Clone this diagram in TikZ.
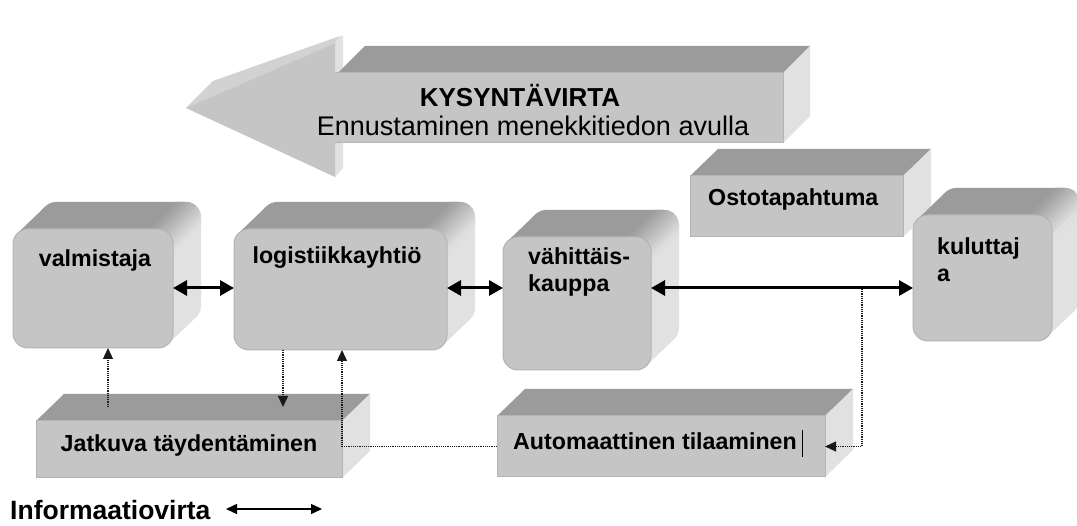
\documentclass[tikz,border=0pt]{standalone}
\usepackage{fontspec}
\setmainfont{Liberation Sans}
\usetikzlibrary{arrows.meta}
\definecolor{topc}{HTML}{9B9B9B}
\definecolor{sidec}{HTML}{E1E1E1}
\definecolor{frontc}{HTML}{C5C5C5}
\definecolor{edgec}{HTML}{B4B4B4}
\definecolor{bevelc}{HTML}{D2D2D2}
\newcommand\exX{28}
\newcommand\exY{(-27)}
\newcommand\rr{15}
\newcommand\extshade[2]{%
  \fill[topc] ({#1-400},{#2+400}) -- ({#1+400},{#2-400}) -- ({#1-400},{#2-400}) -- cycle;
  \fill[sidec] ({#1-400},{#2+400}) -- ({#1+400},{#2-400}) -- ({#1+400},{#2+400}) -- cycle;
  \foreach \i in {0,...,9}{%
    \pgfmathsetmacro\ha{0.5*(-24+4.8*\i)}%
    \pgfmathsetmacro\hb{0.5*(-24+4.8*(\i+1))+0.4}%
    \pgfmathtruncatemacro\pc{95-10*\i}%
    \fill[topc!\pc!sidec] ({#1-400+(\ha)},{#2+400+(\ha)}) -- ({#1+400+(\ha)},{#2-400+(\ha)}) -- ({#1+400+(\hb)},{#2-400+(\hb)}) -- ({#1-400+(\hb)},{#2+400+(\hb)}) -- cycle;
  }%
}
\newcommand\rbox[5]{%
  \pgfmathsetmacro\tpx{#2+0.293*\rr}\pgfmathsetmacro\tpy{#3+0.293*\rr}%
  \pgfmathsetmacro\qqx{#4-0.293*\rr}%
  \pgfmathsetmacro\bsx{#4-0.293*\rr}\pgfmathsetmacro\bsy{#5-0.293*\rr}%
  \begin{scope}
    \clip[rounded corners=15pt] ({#2+\exX},{#3+\exY}) rectangle ({#4+\exX},{#5+\exY});
    \extshade{\qqx}{\tpy}
  \end{scope}
  \begin{scope}
    \clip (\tpx,\tpy) -- ({\tpx+\exX},{\tpy+\exY}) -- ({\bsx+\exX},{\bsy+\exY}) -- (\bsx,\bsy) -- cycle;
    \extshade{\qqx}{\tpy}
  \end{scope}
  \node[rfront, minimum width={(#4-#2)*1pt}, minimum height={(#5-#3)*1pt}] (#1) at ({(#2+#4)/2},{(#3+#5)/2}) {};
}
\newcommand\flatbox[5]{%
  \fill[topc] (#2,#3) -- ({#2+\exX},{#3+\exY}) -- ({#4+\exX},{#3+\exY}) -- (#4,#3) -- cycle;
  \fill[sidec] (#4,#3) -- ({#4+\exX},{#3+\exY}) -- ({#4+\exX},{#5+\exY}) -- (#4,#5) -- cycle;
  \node[ffront, minimum width={(#4-#2)*1pt}, minimum height={(#5-#3)*1pt}] (#1) at ({(#2+#4)/2},{(#3+#5)/2}) {};
}
\tikzset{
  rfront/.style={fill=frontc, draw=edgec, line width=1pt, rounded corners=15pt, inner sep=0pt, outer sep=0pt},
  ffront/.style={fill=frontc, draw=edgec, line width=1pt, inner sep=0pt, outer sep=0pt},
  lbl/.style={font=\fontsize{23.2}{27}\selectfont\bfseries, inner sep=0pt, align=left},
  flowarrow/.style={line width=3pt, arrows={Triangle[length=14pt,width=15pt]-Triangle[length=14pt,width=15pt]}},
  legarrow/.style={line width=1.5pt, arrows={Triangle[length=11pt,width=10pt]-Triangle[length=11pt,width=10pt]}},
  dotarrow/.style={line width=1.2pt, draw=black!90, dash pattern=on 1.2pt off 1pt, -{Triangle[length=11pt,width=10pt]}}
}
\begin{document}
\begin{tikzpicture}[x=1pt,y=-1pt]
\fill[white] (0,0) rectangle (1077,526);
\useasboundingbox (0,0) rectangle (1077,526);
% big arrow
\fill[bevelc] (186,108) -- (213,81) -- (340,36) -- (335,43) -- cycle;
\fill[sidec] (335,43) -- (340,36) -- (343,36) -- (343,73) -- (335,73) -- cycle;
\fill[topc] (338,73) -- (783,73) -- (810,46) -- (365,46) -- cycle;
\fill[sidec] (783,73) -- (810,46) -- (810,116) -- (783,143) -- cycle;
\fill[sidec] (335,143) -- (343,143) -- (343,168) -- (335,177) -- cycle;
\fill[frontc] (186,108) -- (335,43) -- (335,73) -- (783,73) -- (783,143) -- (335,143) -- (335,177) -- cycle;
\draw[edgec, line width=1pt] (335,73) -- (783,73) -- (783,143) -- (335,143);
\node[font=\fontsize{26}{30}\selectfont\bfseries, inner sep=0pt] (kysT) at (520,96) {KYSYNTÄVIRTA};
\node[font=\fontsize{27}{30}\selectfont, inner sep=0pt] (ennT) at (533,126) {Ennustaminen menekkitiedon avulla};
% boxes
\flatbox{osto}{690}{176}{903}{237}
\rbox{valm}{13}{229}{173}{348}
\rbox{logi}{234}{229}{447}{350}
\rbox{vah}{503}{237}{651}{370}
\rbox{kul}{913}{215}{1052}{341}
\flatbox{jat}{36}{421}{342}{478}
\flatbox{auto}{497}{416}{825}{477}
% labels
\node[lbl] (valmT) at (95,261) {valmistaja};
\node[lbl] (logiT) at (337,258) {logistiikkayhtiö};
\node[lbl, anchor=west] (vahT) at (528,272) {vähittäis-\\kauppa};
\node[lbl, anchor=west] (kulT) at (937,260) {kuluttaj\\a};
\node[lbl, anchor=west] (ostoT) at (708,200) {Ostotapahtuma};
\node[lbl] (jatT) at (189,446) {Jatkuva täydentäminen};
\node[lbl, anchor=west] (autoT) at (513,441) {Automaattinen tilaaminen};
\coordinate (cur1) at (802,430);
\coordinate (cur2) at (802,457);
\draw[line width=0.8pt] (cur1) -- (cur2);
% flow arrows
\coordinate (flowY) at (0,288);
\draw[flowarrow] (valm.east |- flowY) -- (logi.west |- flowY);
\draw[flowarrow] (logi.east |- flowY) -- (vah.west |- flowY);
\draw[flowarrow] (vah.east |- flowY) -- (kul.west |- flowY);
% dotted info arrows
\coordinate (a1) at (108,407);
\draw[dotarrow] (a1) -- (a1 |- valm.south);
\coordinate (b1) at (283,407);
\draw[dotarrow] (b1 |- logi.south) -- (b1);
\draw[dotarrow] (auto.west) -- (auto.west -| jat.east) -- (jat.east |- logi.south);
\coordinate (d1) at (862,289);
\draw[dotarrow] (d1) -- (d1 |- auto.east) -- (auto.east);
% legend
\node[font=\fontsize{26.5}{30}\selectfont\bfseries, inner sep=0pt, anchor=west] (infoT) at (10,510) {Informaatiovirta};
\coordinate (lg1) at (226,509);
\coordinate (lg2) at (322,509);
\draw[legarrow] (lg1) -- (lg2);
\end{tikzpicture}
\end{document}
